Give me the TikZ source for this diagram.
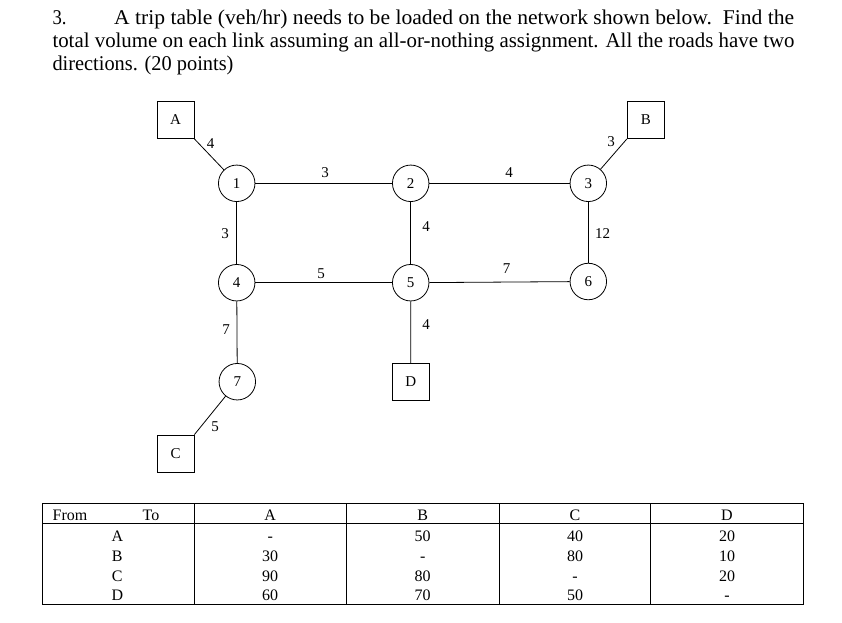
\documentclass[tikz,border=0pt]{standalone}
\usepackage{fontspec}
\setmainfont{Liberation Serif}
\usepackage{graphicx}
\begin{document}
\begin{tikzpicture}[x=1pt,y=-1pt,
  ttl/.style={anchor=base west,inner sep=0pt,font=\fontsize{21}{21}\selectfont},
  junc/.style={circle,draw,line width=0.8pt,minimum size=36.5pt,inner sep=0pt,font=\fontsize{15}{15}\selectfont},
  zone/.style={rectangle,draw,line width=0.8pt,minimum size=37pt,inner sep=0pt,font=\fontsize{15}{15}\selectfont},
  lnk/.style={line width=0.8pt},
  wt/.style={inner sep=0pt,font=\fontsize{15}{15}\selectfont},
  cell/.style={anchor=base,inner sep=0pt,font=\fontsize{16}{16}\selectfont},
  rule/.style={line width=0.8pt}]
\useasboundingbox (0,0) rectangle (842,622);
% title
\node[ttl] (t0) at (52.3,24.3) {\resizebox{14pt}{\height}{3.}};
\node[ttl] (t1) at (114,24.3) {\resizebox{680pt}{\height}{A trip table (veh/hr) needs to be loaded on the network shown below.\ \ Find the}};
\node[ttl] (t2) at (52.3,47.6) {\resizebox{742pt}{\height}{total volume on each link assuming an all-or-nothing assignment. All the roads have two}};
\node[ttl] (t3) at (52.3,70.9) {\resizebox{181pt}{\height}{directions. (20 points)}};
% network
\node[zone] (A) at (175.5,120) {A};
\node[zone] (B) at (645.8,120) {B};
\node[zone] (C) at (175.5,453.5) {C};
\node[zone] (D) at (410.8,381.7) {D};
\node[junc] (n1) at (236.7,183.3) {1};
\node[junc] (n2) at (410.7,183.3) {2};
\node[junc] (n3) at (588.3,183.3) {3};
\node[junc] (n4) at (236.7,282.7) {4};
\node[junc] (n5) at (410.7,282.7) {5};
\node[junc] (n6) at (588.3,281.5) {6};
\node[junc] (n7) at (237.3,381.7) {7};
\draw[lnk] (A.south east) -- (n1);
\draw[lnk] (B.south west) -- (n3);
\draw[lnk] (C.north east) -- (n7);
\draw[lnk] (D.north) -- (n5);
\draw[lnk] (n1) -- (n2);
\draw[lnk] (n2) -- (n3);
\draw[lnk] (n1) -- (n4);
\draw[lnk] (n2) -- (n5);
\draw[lnk] (n3) -- (n6);
\draw[lnk] (n4) -- (n5);
\draw[lnk] (n5) -- (n6);
\draw[lnk] (n4) -- (n7);
\node[wt] (wA1) at (210.7,143.3) {4};
\node[wt] (w12) at (325,172.7) {3};
\node[wt] (w14) at (225,233.3) {3};
\node[wt] (w25) at (426,226.7) {4};
\node[wt] (w45) at (321,273.3) {5};
\node[wt] (w23) at (509,172.7) {4};
\node[wt] (wB3) at (611,141.7) {3};
\node[wt] (w36) at (602.7,233.3) {12};
\node[wt] (w56) at (506.7,268.3) {7};
\node[wt] (w47) at (226,330) {7};
\node[wt] (w5D) at (426,325) {4};
\node[wt] (w7C) at (215,426.7) {5};
% table
\draw[rule] (42.3,503.3) rectangle (803.3,604);
\draw[rule] (42.3,523.3) -- (803.3,523.3);
\foreach \x in {194.3,346,499.3,650.7} \draw[rule] (\x,503.3) -- (\x,604);
\node[cell] (hfrom) at (70,520.5) {From};
\node[cell] (hto) at (151,520.5) {To};
\node[cell] (hA) at (270.2,520.5) {A};
\node[cell] (hB) at (422.7,520.5) {B};
\node[cell] (hC) at (575,520.5) {C};
\node[cell] (hD) at (727,520.5) {D};
\node[cell] (rA) at (117.3,541) {A};
\node[cell] (rB) at (117.3,561) {B};
\node[cell] (rC) at (117.3,581) {C};
\node[cell] (rD) at (117.3,600.5) {D};
\node[cell] (aa) at (270.2,541) {-};
\node[cell] (ab) at (422.7,541) {50};
\node[cell] (ac) at (575,541) {40};
\node[cell] (ad) at (727,541) {20};
\node[cell] (ba) at (270.2,561) {30};
\node[cell] (bb) at (422.7,561) {-};
\node[cell] (bc) at (575,561) {80};
\node[cell] (bd) at (727,561) {10};
\node[cell] (ca) at (270.2,581) {90};
\node[cell] (cb) at (422.7,581) {80};
\node[cell] (cc) at (575,581) {-};
\node[cell] (cd) at (727,581) {20};
\node[cell] (da) at (270.2,600.5) {60};
\node[cell] (db) at (422.7,600.5) {70};
\node[cell] (dc) at (575,600.5) {50};
\node[cell] (dd) at (727,600.5) {-};
\end{tikzpicture}
\end{document}
